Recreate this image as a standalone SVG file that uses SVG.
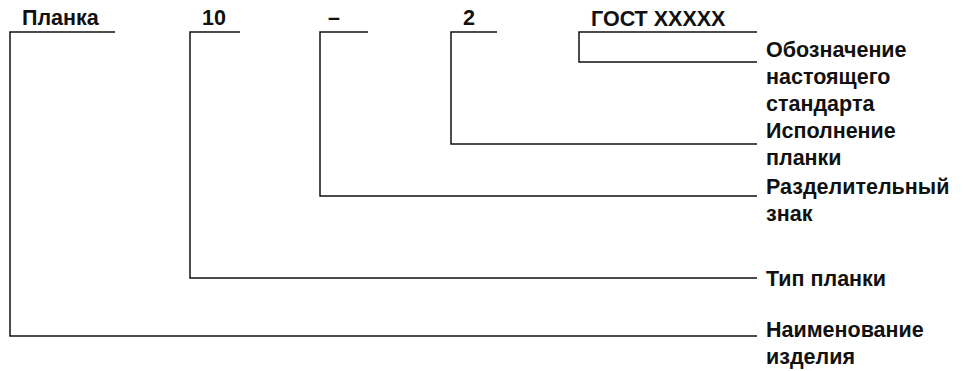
<svg xmlns="http://www.w3.org/2000/svg" width="963" height="371" viewBox="0 0 963 371">
<style>
text{font-family:"Liberation Sans",Arial,sans-serif;font-size:21.5px;font-weight:bold;fill:#111}
.c{fill:none;stroke:#111;stroke-width:1.5}
</style>
<rect width="963" height="371" fill="#fff"/>
<g id="connectors">
<polyline class="c" points="115,32 10,32 10,336 757,336"/>
<polyline class="c" points="240,32 190,32 190,278 757,278"/>
<polyline class="c" points="368,32 320,32 320,196 757,196"/>
<polyline class="c" points="497,32 451,32 451,144 757,144"/>
<polyline class="c" points="757,32 579,32 579,62 757,62"/>
</g>
<g id="n-planka"><text x="22" y="25">Планка</text></g>
<g id="n-10"><text x="202" y="25">10</text></g>
<g id="n-dash"><text x="328" y="25">–</text></g>
<g id="n-2"><text x="463" y="25">2</text></g>
<g id="n-gost"><text x="591" y="26">ГОСТ XXXXX</text></g>
<g id="l-gost"><text x="766" y="57">Обозначение</text><text x="766" y="84">настоящего</text><text x="766" y="111">стандарта</text></g>
<g id="l-isp"><text x="766" y="138">Исполнение</text><text x="766" y="165">планки</text></g>
<g id="l-razd"><text x="766" y="194">Разделительный</text><text x="766" y="221">знак</text></g>
<g id="l-tip"><text x="766" y="286">Тип планки</text></g>
<g id="l-naim"><text x="766" y="337">Наименование</text><text x="766" y="364">изделия</text></g>
</svg>
